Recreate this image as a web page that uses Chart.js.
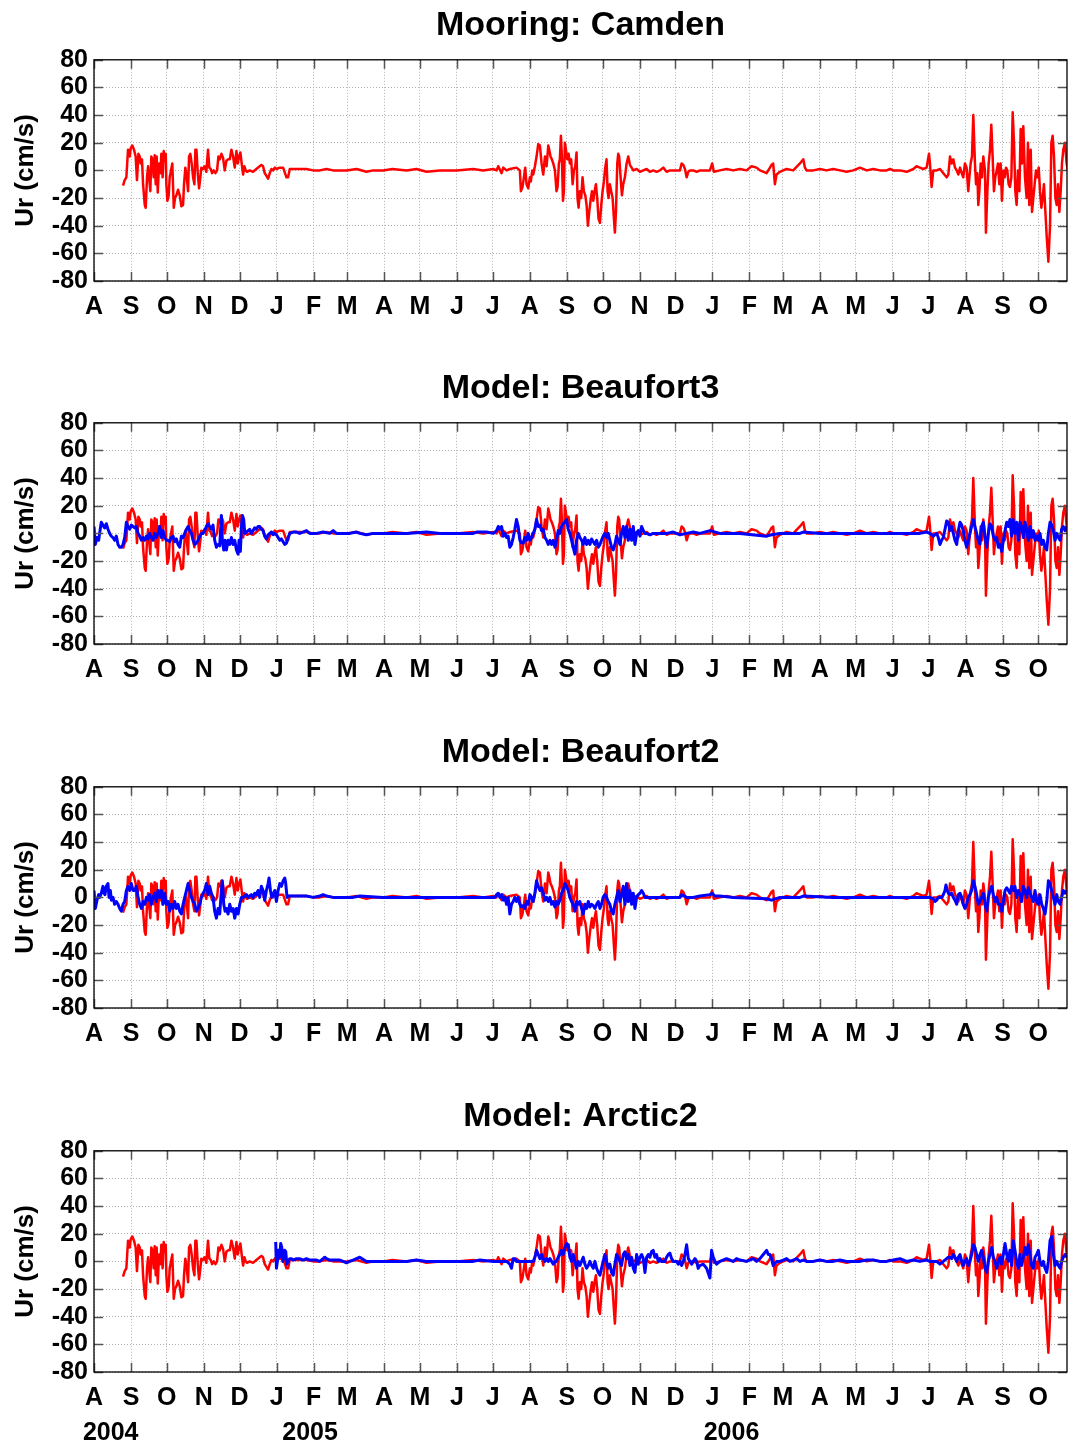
<!DOCTYPE html>
<html>
<head>
<meta charset="utf-8">
<title>Ur: mooring vs models</title>
<script src="https://cdn.jsdelivr.net/npm/chart.js@4.4.1/dist/chart.umd.min.js"></script>
<style>
  html, body { margin: 0; padding: 0; background: #fff; }
  body { width: 1068px; height: 1446px; position: relative; overflow: hidden; }
  .panel { position: absolute; left: 0; width: 1068px; }
  .panel canvas { display: block; }
</style>
</head>
<body>
<div class="panel" style="top:0px"><canvas id="panel1" width="1068" height="364"></canvas></div>
<div class="panel" style="top:363px"><canvas id="panel2" width="1068" height="364"></canvas></div>
<div class="panel" style="top:727px"><canvas id="panel3" width="1068" height="364"></canvas></div>
<div class="panel" style="top:1091px"><canvas id="panel4" width="1068" height="355"></canvas></div>
<script>
// x = days since 1 Aug 2004, y = Ur (cm/s)
const monthDays = [0, 31, 61, 92, 122, 153, 184, 212, 243, 273, 304, 334, 365, 396, 426, 457, 487,
    518, 549, 577, 608, 638, 669, 699, 730, 761, 791];
const monthLetters = ['A', 'S', 'O', 'N', 'D', 'J', 'F', 'M', 'A', 'M', 'J', 'J', 'A', 'S', 'O', 'N', 'D',
    'J', 'F', 'M', 'A', 'M', 'J', 'J', 'A', 'S', 'O'];
const yearLabels = ['2004', '2005', '2006'];
const yearLabelDays = [14, 181, 534];

// mooring (red), same in every panel
const camdenUr = [
    [24.3,-11],[25.7,-7],[27.1,-5],[28.5,15],[29.9,10],[30.7,16],[32.1,18],[33.5,15],[34.9,10],[36.0,-7],
    [37.2,12],[38.3,10],[39.1,5],[40.2,8],[41.1,-10],[42.5,-25],[43.3,-27],[44.4,-5],[45.3,3],[46.1,-5],
    [47.2,-15],[48.0,10],[48.9,8],[50.0,-5],[50.8,11],[51.7,-10],[52.5,10],[53.4,-16],[54.5,5],[55.6,-2],
    [56.4,12],[57.5,-5],[58.4,14],[59.2,7],[60.1,12],[60.6,-10],[61.5,-22],[62.6,-18],[63.4,-5],[64.5,0],
    [65.6,5],[66.8,-27],[67.9,-20],[69.0,-18],[70.4,-14],[71.8,-18],[73.2,-26],[74.6,-25],[75.4,-10],[76.5,2],
    [77.7,-5],[78.8,-15],[79.6,10],[80.7,12],[81.8,5],[83.0,-5],[84.1,-10],[84.9,15],[85.8,15],[86.9,-2],
    [88.0,-13],[89.1,-5],[89.9,2],[91.3,1],[92.7,3],[94.1,-1],[95.5,15],[96.6,2],[97.8,1],[98.9,-2],
    [100.3,0],[101.7,-2],[103.1,0],[104.2,10],[105.3,8],[106.7,12],[108.1,9],[109.5,0],[110.9,7],[112.3,8],
    [113.7,8],[115.1,15],[116.5,10],[117.9,2],[119.3,14],[120.4,5],[121.5,10],[122.6,13],[123.7,5],[124.9,-3],
    [126.0,3],[127.1,0],[128.2,-1],[130.4,0],[133.2,-1],[136.0,1],[138.8,3],[140.2,4],[141.6,3],[143.0,-2],
    [144.4,-4],[145.8,-6],[147.2,-2],[148.6,1],[150.0,0],[151.4,2],[152.8,1],[155.6,2],[158.4,2],[161.2,-5],
    [162.6,-5],[164.0,1],[166.8,1],[172.3,1],[177.9,1],[183.5,0],[189.1,0],[194.7,1],[200.3,0],[205.9,0],
    [211.5,0],[219.9,1],[228.2,-1],[233.8,0],[242.2,0],[250.0,1],[261.8,0],[270.1,1],[278.5,-1],[289.7,0],
    [303.7,0],[317.6,1],[326.0,0],[334.4,1],[337.2,0],[338.6,3],[341.4,-2],[342.8,2],[345.6,0],[348.3,1],
    [353.9,2],[356.7,0],[357.6,-15],[358.9,-12],[360.1,-5],[361.2,2],[362.3,-10],[363.7,-13],[365.1,-5],[365.9,-8],
    [367.1,0],[367.9,-3],[369.3,3],[370.7,10],[372.1,19],[373.5,18],[374.9,5],[376.3,-3],[377.7,10],[379.1,3],
    [380.5,18],[381.3,15],[382.4,10],[383.5,8],[384.7,5],[386.1,0],[387.4,-15],[388.3,-12],[389.4,5],[390.2,8],
    [391.1,25],[391.9,10],[392.8,-22],[393.6,-15],[394.4,20],[395.3,15],[396.4,8],[397.5,12],[398.6,5],[399.7,8],
    [400.9,-10],[402.0,0],[403.1,3],[404.2,13],[405.0,-20],[405.9,-27],[407.0,-15],[408.1,-20],[409.2,-5],[410.3,-15],
    [411.5,-18],[412.6,-25],[413.7,-40],[414.8,-30],[415.9,-22],[417.1,-15],[418.2,-22],[419.3,-15],[420.4,-10],[421.5,-20],
    [422.6,-35],[423.8,-38],[424.9,-25],[426.0,-15],[427.1,-8],[428.2,2],[429.3,8],[430.2,-15],[431.0,-20],[432.1,-10],
    [433.2,-15],[434.4,-20],[435.5,-35],[436.3,-45],[437.2,-30],[438.3,5],[439.1,12],[439.9,10],[441.1,-5],[442.2,-18],
    [443.3,-10],[444.7,-5],[446.1,5],[447.5,10],[448.9,4],[450.3,2],[451.7,0],[454.5,1],[457.3,-1],[460.1,0],
    [462.9,1],[465.6,-1],[468.4,0],[471.2,-1],[474.0,0],[476.8,2],[479.6,-1],[482.4,0],[485.2,0],[490.8,0],
    [492.2,5],[493.6,4],[495.0,1],[496.4,-5],[497.8,-1],[499.2,0],[501.9,0],[504.8,-1],[507.5,0],
    [515.9,0],[517.8,5],[519.2,-1],[524.3,0],[529.8,1],[535.4,0],[541.0,1],[546.6,0],[550.8,3],[555.0,2],
    [557.8,0],[563.4,-2],[566.2,2],[567.5,4],[568.9,5],[570.3,-10],[571.7,-3],[574.5,-1],[577.3,0],[580.1,1],
    [585.7,0],[591.3,5],[594.1,8],[595.5,2],[596.9,0],[602.5,0],[608.0,1],[613.6,0],[619.2,1],[624.8,0],
    [630.4,-1],[636.0,0],[641.6,2],[647.2,0],[652.7,1],[658.3,0],[663.9,0],[666.7,1],[669.5,0],[675.1,0],
    [680.7,-1],[686.3,1],[689.0,3],[691.8,2],[694.6,1],[697.4,2],[699.4,12],[700.2,5],[701.6,-12],[703.0,0],
    [705.8,0],[708.6,1],[711.4,-2],[714.2,-5],[715.6,-3],[717.0,10],[718.4,5],[719.8,8],[721.2,2],[722.6,0],
    [724.0,-3],[725.4,2],[726.8,-2],[728.1,-5],[729.5,5],[730.9,2],[732.3,-15],[733.2,-5],[734.3,5],[735.4,10],
    [736.5,40],[737.9,5],[738.8,-10],[739.9,-2],[740.7,-25],[741.6,-15],[742.7,5],[743.8,-5],[744.9,10],[746.3,0],
    [747.1,-45],[748.3,-15],[749.4,5],[750.5,15],[751.6,33],[752.7,10],[753.8,-15],[754.9,-5],[756.1,0],[757.2,5],
    [758.3,-10],[759.4,5],[760.5,-22],[761.7,0],[762.8,-5],[763.9,2],[765.0,0],[766.1,-10],[767.2,-12],[768.4,-5],
    [769.5,42],[770.6,20],[771.7,-15],[772.8,-25],[773.9,0],[775.1,-15],[776.2,30],[777.3,5],[778.4,32],[779.8,-5],
    [781.2,-20],[782.3,20],[783.4,-25],[784.6,15],[785.7,-30],[786.8,-20],[787.9,-10],[789.0,0],[790.1,-5],[791.3,2],
    [792.4,-15],[793.5,-27],[794.6,-20],[795.7,-10],[796.9,-30],[798.0,-48],[799.4,-66],[800.8,-40],[801.9,20],[803.0,25],
    [804.1,10],[805.3,-20],[806.4,-25],[807.5,-10],[808.6,-30],[809.7,-15],[810.8,5],[811.9,15],[813.3,20],[814.7,5],
    [815.8,0]
];

// models (blue)
const beaufort3Ur = [
    [0,5],[1.1,-8],[2.5,-3],[3.9,-5],[4.7,0],[6.1,8],[7.5,6],[8.9,4],[10.3,7],[11.7,3],[13.1,0],[14.5,-2],
    [15.9,-3],[17.3,-5],[18.7,-2],[20.1,-8],[21.5,-10],[22.9,-10],[24.3,-8],[25.7,-3],[27.1,8],[28.5,5],
    [29.9,3],[31.3,6],[32.7,5],[34.1,4],[35.5,5],[36.9,0],[38.3,-2],[39.7,-5],[41.1,-3],[42.5,-5],[43.9,-2],
    [45.3,-4],[46.6,0],[48.0,-3],[49.4,-5],[50.8,0],[52.2,-3],[53.6,0],[55.0,5],[56.4,-3],[57.8,2],[59.2,-3],
    [60.6,-5],[62.0,-5],[63.4,-6],[64.8,-3],[66.2,-2],[67.6,-6],[69.0,-4],[70.4,-8],[71.8,-10],[73.2,-2],
    [74.6,-3],[76.0,0],[77.4,3],[78.8,5],[80.2,2],[81.6,0],[83.0,-5],[84.4,-8],[85.8,-7],[87.2,-5],[88.5,-2],
    [89.9,0],[91.3,0],[92.7,2],[94.1,5],[95.5,7],[96.9,5],[98.3,3],[99.7,6],[101.1,-5],[102.5,-10],[103.9,-8],
    [105.3,-9],[106.7,13],[107.5,-5],[108.7,-12],[109.8,-5],[110.9,-12],[112.3,-5],[113.7,-8],[115.1,-3],
    [116.5,-8],[117.9,-5],[119.3,-12],[120.7,-15],[121.5,-5],[122.6,-13],[123.5,5],[124.3,13],[125.4,10],
    [126.3,0],[127.7,1],[129.1,2],[130.4,3],[131.8,0],[133.2,2],[134.6,4],[136.0,3],[137.4,5],[138.8,5],
    [140.2,3],[141.6,2],[143.0,-2],[144.4,-4],[145.8,-1],[147.2,0],[148.6,1],[150.0,-1],[151.4,0],[152.8,-1],
    [154.2,-3],[155.6,-5],[157.0,-4],[158.4,-6],[159.8,-8],[161.2,-7],[162.6,-3],[164.0,0],[166.8,1],[169.6,1],
    [172.3,0],[175.1,1],[177.9,2],[180.7,0],[186.3,0],[191.9,1],[197.5,0],[200.3,2],[203.1,0],[208.7,0],
    [214.2,0],[219.8,1],[222.6,0],
    [228.2,-1],[233.8,0],[247.8,0],[261.8,0],[278.5,1],[289.7,0],[303.7,0],[317.6,0],[320.4,1],[328.8,1],
    [334.4,0],[337.2,2],[338.6,5],[340.0,3],[341.4,5],[342.8,-2],[344.2,0],[345.6,-3],[346.9,-2],[348.3,-10],
    [349.7,-8],[351.1,-3],[352.5,3],[353.9,10],[355.3,5],[356.7,-5],[358.1,-7],[359.5,-7],[360.9,-3],[362.3,-5],
    [363.7,0],[365.1,-5],[366.5,-3],[367.9,0],[369.3,3],[370.7,10],[372.1,5],[373.5,6],[374.9,2],[376.3,3],
    [377.7,-3],[379.1,-5],[380.5,-8],[381.9,-5],[383.3,-8],[384.7,-5],[386.1,-10],[387.4,-5],[388.8,2],[390.2,0],
    [391.6,5],[393.0,7],[394.4,8],[395.8,10],[397.2,3],[398.6,0],[400.0,-5],[401.4,-10],[402.8,-15],[404.2,-5],
    [405.6,0],[407.0,-3],[408.4,-5],[409.8,-8],[411.2,-3],[412.6,-8],[414.0,-5],[415.4,-8],[416.8,-4],[418.2,-6],
    [419.6,-8],[421.0,-5],[422.4,-10],[423.8,-8],[425.1,-5],[426.5,-2],[427.9,0],[429.3,-3],[430.7,0],[432.1,-5],
    [433.5,-10],[434.9,-12],[436.3,-8],[437.7,-2],[439.1,-5],[440.5,-8],[441.9,0],[443.3,5],[444.7,-3],[446.1,5],
    [447.5,-5],[448.9,3],[450.3,-5],[451.7,5],[453.1,-8],[454.5,0],[455.9,2],[457.3,-2],[458.7,5],[460.1,2],
    [461.5,0],[462.9,0],[465.6,-1],[468.4,0],[474.0,0],[479.6,0],[485.2,1],[490.8,-1],[496.4,0],[501.9,1],[507.5,0],
    [515.9,2],[524.3,0],[541.0,0],[563.4,-2],[567.5,-1],[574.5,0],[591.3,0],[594.1,1],[608.0,0],[630.4,0],
    [658.3,0],[680.7,0],[691.8,0],[697.4,1],[700.2,0],[703.0,-2],[705.8,0],[707.2,-3],[708.6,-8],[710.0,-5],
    [711.4,-3],[712.8,3],[714.2,9],[715.6,8],[717.0,2],[718.4,5],[719.8,0],[721.2,-5],[722.6,-8],[724.0,2],
    [725.4,8],[726.8,6],[728.1,2],[729.5,-5],[730.9,-10],[732.3,-5],[733.7,0],[735.1,5],[736.5,10],[737.9,5],
    [739.3,0],[740.7,-5],[742.1,-8],[743.5,5],[744.9,8],[746.3,-3],[747.7,-10],[749.1,0],[750.5,7],[751.9,5],
    [753.3,-2],[754.7,-5],[756.1,-3],[757.5,-10],[758.9,-8],[760.3,-13],[761.7,-5],[763.1,2],[764.5,8],[765.9,5],
    [767.2,10],[768.6,-2],[770.0,10],[771.4,0],[772.8,8],[774.2,-5],[775.6,8],[777.0,5],[778.4,-3],[779.8,8],
    [781.2,3],[782.6,-5],[784.0,5],[785.4,-3],[786.8,2],[788.2,-5],[789.6,-2],[791.0,-5],[792.4,0],[793.8,-8],
    [795.2,-5],[796.6,-10],[798.0,-12],[799.4,0],[800.8,8],[802.2,6],[803.6,2],[805.0,-5],[806.4,0],[807.8,-3],
    [809.2,-5],[810.5,3],[811.9,5],[813.3,2],[814.7,5]
];

const beaufort2Ur = [
    [0,5],[1.1,-8],[2.5,-2],[3.9,2],[4.7,0],[6.1,3],[7.5,8],[8.4,3],[9.2,2],[10.3,8],[11.7,10],[12.6,0],
    [13.7,5],[14.5,-2],[15.9,0],[17.3,-5],[18.7,-3],[20.1,-5],[21.5,-8],[22.9,-10],[24.3,-5],[25.7,-3],[27.1,5],
    [28.5,8],[29.9,5],[31.3,10],[32.7,5],[34.1,5],[35.5,8],[36.9,0],[38.3,-5],[39.7,-8],[41.1,-3],[42.5,-5],
    [43.9,0],[45.3,-2],[46.6,2],[48.0,-5],[49.4,0],[50.8,3],[52.2,-3],[53.6,5],[55.0,0],[56.4,5],[57.8,-5],
    [59.2,3],[60.6,-5],[62.0,-3],[63.4,-10],[64.8,-5],[66.2,-8],[67.6,-3],[69.0,-8],[70.4,-5],[71.8,-10],
    [73.2,-12],[74.6,-5],[76.0,0],[77.4,5],[78.8,10],[80.2,5],[81.6,0],[83.0,-3],[84.4,-5],[85.8,-10],[87.2,-8],
    [88.5,-5],[89.9,0],[91.3,3],[92.7,5],[94.1,10],[95.5,2],[96.9,8],[98.3,3],[99.7,0],[101.1,-10],[102.5,-15],
    [103.9,-8],[105.3,-12],[106.7,5],[107.5,12],[108.7,-5],[109.8,-10],[110.9,-8],[112.3,-12],[113.7,-5],
    [115.1,-10],[116.5,-8],[117.9,-15],[119.3,-8],[120.7,-12],[122.1,-5],[123.5,0],[124.9,0],[126.3,1],
    [127.7,2],[129.1,0],[130.4,1],[131.8,2],[133.2,0],[134.6,3],[136.0,2],[137.4,5],[138.8,0],[140.2,8],
    [141.6,5],[143.0,-2],[144.4,5],[145.8,10],[146.6,14],[147.8,5],[148.9,0],[150.0,2],[151.4,5],[152.8,-3],
    [154.2,5],[155.6,10],[157.0,8],[158.4,12],[159.8,14],[160.6,10],[161.7,0],[162.8,1],[164.0,1],[166.8,1],
    [172.3,1],[177.9,1],[183.5,0],[189.1,1],[191.9,2],[194.7,1],[200.3,0],[205.9,0],[211.5,0],[217.0,0],[222.6,1],
    [242.2,0],[261.8,0],[289.7,0],[326.0,0],[334.4,0],[335.8,0],[337.2,2],[338.6,3],[340.0,0],[341.4,2],
    [342.8,-2],[344.2,0],[345.6,-5],[346.9,0],[348.3,-12],[349.7,-5],[351.1,-3],[352.5,0],[353.9,-3],[355.3,0],
    [356.7,-5],[358.1,-7],[359.5,-6],[360.9,-8],[362.3,-3],[363.7,-5],[365.1,2],[366.5,0],[367.9,-3],[369.3,3],
    [370.7,12],[372.1,8],[373.5,5],[374.9,7],[376.3,3],[377.7,-2],[379.1,0],[380.5,-3],[381.9,0],[383.3,-5],
    [384.7,-3],[386.1,-7],[387.4,-3],[388.8,-5],[390.2,-2],[391.6,3],[393.0,5],[394.4,10],[395.8,8],[397.2,5],
    [398.6,0],[400.0,-3],[401.4,-5],[402.8,-10],[404.2,-3],[405.6,-5],[407.0,-3],[408.4,-8],[409.8,-12],[411.2,-5],
    [412.6,-8],[414.0,-3],[415.4,-7],[416.8,-5],[418.2,-6],[419.6,-8],[421.0,-5],[422.4,-3],[423.8,-8],[425.1,-5],
    [426.5,0],[427.9,2],[429.3,0],[430.7,-3],[432.1,-5],[433.5,-10],[434.9,-12],[436.3,-5],[437.7,0],[439.1,5],
    [440.5,-3],[441.9,2],[443.3,8],[444.7,-5],[446.1,10],[447.5,-3],[448.9,5],[450.3,-5],[451.7,3],[453.1,-8],
    [454.5,0],[455.9,2],[457.3,3],[458.7,5],[460.1,3],[461.5,0],[462.9,0],[468.4,0],[474.0,0],[479.6,0],
    [485.2,0],[490.8,0],[492.2,2],[496.4,0],[501.9,0],[507.5,1],
    [515.9,2],[517.8,3],[520.1,1],[524.3,1],[535.4,0],[563.4,-1],[567.5,-2],[574.5,0],[591.3,0],[594.1,1],
    [619.2,0],[647.2,0],[675.1,0],[697.4,0],[700.2,0],[703.0,-1],[704.4,-3],[705.8,-2],[707.2,0],[710.0,0],
    [711.4,2],[712.8,5],[713.6,9],[714.7,5],[715.6,3],[717.0,2],[718.4,3],[719.8,0],[721.2,-2],[722.6,-5],
    [724.0,2],[725.4,3],[726.8,0],[728.1,-5],[729.5,-8],[730.9,-5],[732.3,0],[733.7,2],[735.1,5],[736.5,12],
    [737.9,8],[739.3,2],[740.7,-5],[742.1,-3],[743.5,0],[744.9,3],[746.3,-5],[747.7,-10],[749.1,0],[750.5,5],
    [751.9,8],[753.3,2],[754.7,-3],[756.1,0],[757.5,-5],[758.9,-5],[760.3,-10],[761.7,-3],[763.1,5],[764.5,7],
    [765.9,5],[767.2,3],[768.6,8],[770.0,5],[771.4,8],[772.8,0],[774.2,5],[775.6,2],[777.0,-3],[778.4,8],
    [779.8,5],[781.2,0],[782.6,7],[784.0,3],[785.4,0],[786.8,-3],[788.2,5],[789.6,-3],[791.0,-5],[792.4,2],
    [793.8,-5],[795.2,-8],[796.6,-12],[798.0,-3],[799.4,12],[800.8,10],[802.2,5],[803.6,0],[805.0,-5],[806.4,2],
    [807.8,-3],[809.2,-5],[810.5,0],[811.9,5],[813.3,3],[814.7,5]
];

const arctic2Ur = [
    [152.2,14],[152.8,-5],[153.6,0],[154.5,8],[155.6,3],[156.4,13],[157.3,10],[158.1,0],[159.0,3],[159.8,8],
    [160.6,7],[161.5,-2],[162.6,0],[164.0,2],[165.4,2],[166.8,1],[169.6,2],[172.3,2],[175.1,1],[177.9,2],
    [180.7,1],[183.5,1],[186.3,1],[189.1,0],[191.9,2],[193.3,3],[194.7,2],[197.5,1],[200.3,1],[203.1,1],
    [205.9,1],[208.7,0],[211.5,-1],[214.2,0],[217.0,1],[219.8,2],[222.6,3],
    [228.2,0],[233.8,0],[247.8,0],[261.8,0],[270.1,1],[278.5,0],[289.7,0],[303.7,0],[317.6,0],[323.2,1],
    [334.4,0],[340.0,0],[345.6,0],[348.3,-2],[349.7,-5],[351.1,2],[352.5,2],[353.9,0],[359.5,0],[365.1,0],
    [367.9,0],[369.3,3],[370.7,8],[372.1,5],[373.5,2],[374.9,5],[376.3,2],[377.7,0],[379.1,2],[380.5,0],
    [381.9,2],[383.3,0],[384.7,-2],[386.1,0],[387.4,0],[388.8,3],[390.2,5],[391.6,8],[393.0,5],[394.4,10],
    [395.8,13],[397.2,12],[398.6,3],[400.0,0],[401.4,5],[402.8,0],[404.2,-5],[405.6,0],[407.0,-3],[408.4,0],
    [409.8,3],[411.2,-2],[412.6,-5],[414.0,-3],[415.4,0],[416.8,-3],[418.2,-5],[419.6,0],[421.0,-5],[422.4,-8],
    [423.8,-10],[425.1,-5],[426.5,0],[427.9,5],[429.3,0],[430.7,-5],[432.1,-2],[433.5,-8],[434.9,-10],[436.3,-2],
    [437.7,5],[439.1,3],[440.5,0],[441.9,-3],[443.3,5],[444.7,7],[446.1,2],[447.5,5],[448.9,-3],[450.3,3],
    [451.7,-5],[453.1,-8],[454.5,5],[455.9,-2],[457.3,3],[458.7,5],[460.1,2],[461.5,-8],[462.9,3],[464.3,5],
    [465.6,3],[467.0,7],[468.4,8],[469.8,3],[471.2,5],[472.6,0],[474.0,2],[475.4,0],[476.8,0],[478.2,0],
    [479.6,3],[481.0,5],[482.4,6],[483.8,2],[485.2,0],[486.6,0],[488.0,0],[489.4,-2],[490.8,0],[492.2,-3],
    [493.6,0],[495.0,5],[496.4,12],[497.8,2],[499.2,0],[500.6,-2],[501.9,0],[503.4,2],[504.8,0],[506.1,-5],[507.5,-3],
    [510.3,-2],[513.1,-5],[515.9,-12],[517.3,8],[518.7,3],[520.1,0],[521.5,-2],[524.3,0],[529.8,2],[535.4,0],
    [538.2,2],[541.0,1],[546.6,0],[552.2,2],[555.0,0],[557.8,2],[560.6,5],[563.4,8],[564.8,5],[566.2,5],
    [567.5,2],[568.9,-3],[571.7,0],[574.5,0],[577.3,1],[580.1,2],[582.9,0],[585.7,1],[588.5,2],[591.3,0],
    [594.1,1],[596.9,0],[602.5,0],[608.0,1],[613.6,0],[619.2,0],[624.8,1],[630.4,0],[636.0,0],[641.6,0],
    [647.2,1],[652.7,1],[658.3,0],[663.9,0],[669.5,1],[675.1,2],[680.7,0],[686.3,1],[691.8,0],[697.4,1],
    [700.2,0],[703.0,0],[705.8,0],[708.6,-2],[711.4,0],[714.2,2],[715.6,3],[717.0,3],[718.4,2],[719.8,5],
    [721.2,3],[722.6,0],[724.0,3],[725.4,5],[726.8,0],[728.1,-3],[729.5,0],[730.9,2],[732.3,-3],[733.7,0],
    [735.1,5],[736.5,12],[737.9,10],[739.3,5],[740.7,0],[742.1,5],[743.5,8],[744.9,3],[746.3,-5],[747.7,-8],
    [749.1,0],[750.5,5],[751.9,10],[753.3,3],[754.7,0],[756.1,-5],[757.5,0],[758.9,3],[760.3,-2],[761.7,5],
    [763.1,13],[764.5,5],[765.9,0],[767.2,8],[768.6,-3],[770.0,15],[771.4,8],[772.8,0],[774.2,-5],[775.6,5],
    [777.0,-3],[778.4,3],[779.8,10],[781.2,5],[782.6,12],[784.0,5],[785.4,-3],[786.8,-5],[788.2,3],[789.6,5],
    [791.0,8],[792.4,0],[793.8,-3],[795.2,0],[796.6,-5],[798.0,-8],[799.4,0],[800.8,15],[802.2,18],[803.6,5],
    [805.0,-3],[806.4,0],[807.8,-3],[809.2,-5],[810.5,0],[811.9,3],[813.3,5],[814.7,3]
];

document.addEventListener('DOMContentLoaded', function() {
    const family = '"Liberation Sans", Arial, Helvetica, sans-serif';
    const tickFont = { family: family, size: 25, weight: 'bold' };

    // black box + inward tick marks
    const framePlugin = {
        id: 'frame',
        afterDatasetsDraw(chart) {
            const { ctx, chartArea: a, scales: { x, y } } = chart;
            ctx.save();
            ctx.strokeStyle = '#555';
            ctx.lineWidth = 1.5;
            ctx.beginPath();
            x.ticks.forEach(t => {
                const px = Math.round(x.getPixelForValue(t.value)) + 0.5;
                ctx.moveTo(px, a.bottom); ctx.lineTo(px, a.bottom - 9);
                ctx.moveTo(px, a.top); ctx.lineTo(px, a.top + 9);
            });
            y.ticks.forEach(t => {
                const py = Math.round(y.getPixelForValue(t.value)) + 0.5;
                ctx.moveTo(a.left, py); ctx.lineTo(a.left + 9, py);
                ctx.moveTo(a.right, py); ctx.lineTo(a.right - 9, py);
            });
            ctx.stroke();
            ctx.strokeStyle = '#000';
            ctx.lineWidth = 1.3;
            ctx.strokeRect(a.left, a.top, a.right - a.left, a.bottom - a.top);
            ctx.restore();
        }
    };

    const yearPlugin = {
        id: 'years',
        afterDraw(chart) {
            const { ctx, scales: { x } } = chart;
            ctx.save();
            ctx.font = 'bold 25px ' + family;
            ctx.fillStyle = '#000';
            ctx.textAlign = 'center';
            ctx.textBaseline = 'middle';
            yearLabels.forEach((label, i) => {
                ctx.fillText(label, x.getPixelForValue(yearLabelDays[i]), 342);
            });
            ctx.restore();
        }
    };

    function makePanel(id, title, modelUr, withYears) {
        const canvas = document.getElementById(id);
        const datasets = [];
        if (modelUr) {
            datasets.push({ data: modelUr, borderColor: '#0000ff', borderWidth: 3 });
        }
        datasets.push({ data: camdenUr, borderColor: '#ff0000', borderWidth: 2.5 });
        datasets.forEach(d => {
            d.pointRadius = 0;
            d.tension = 0;
            d.fill = false;
            d.borderJoinStyle = 'round';
        });

        return new Chart(canvas, {
            type: 'line',
            data: { datasets: datasets },
            plugins: withYears ? [framePlugin, yearPlugin] : [framePlugin],
            options: {
                responsive: false,
                animation: false,
                events: [],
                layout: { padding: { left: 0, right: 1, top: 0, bottom: 0 } },
                plugins: {
                    legend: { display: false },
                    tooltip: { enabled: false },
                    title: {
                        display: true,
                        text: title,
                        color: '#000',
                        fullSize: false,
                        font: { family: family, size: 34, weight: 'bold' },
                        padding: { top: 5, bottom: 14 }
                    }
                },
                scales: {
                    x: {
                        type: 'linear',
                        min: 0,
                        max: 815,
                        afterBuildTicks: s => { s.ticks = monthDays.map(v => ({ value: v })); },
                        afterFit: s => { s.height = canvas.height - 281; },
                        ticks: {
                            autoSkip: false,
                            maxRotation: 0,
                            padding: 11,
                            color: '#000',
                            font: tickFont,
                            callback: (v, i) => monthLetters[i]
                        },
                        grid: { color: '#b0b0b0', lineWidth: 1, drawTicks: false },
                        border: { display: false, dash: [1, 2] }
                    },
                    y: {
                        min: -80,
                        max: 80,
                        afterFit: s => { s.width = 94; },
                        ticks: { stepSize: 20, autoSkip: false, padding: 6, color: '#000', font: tickFont },
                        grid: { color: '#b0b0b0', lineWidth: 1, drawTicks: false },
                        border: { display: false, dash: [1, 2] },
                        title: {
                            display: true,
                            text: 'Ur (cm/s)',
                            color: '#000',
                            font: { family: family, size: 26, weight: 'bold' },
                            padding: { top: 10, bottom: 0 }
                        }
                    }
                }
            }
        });
    }

    makePanel('panel1', 'Mooring: Camden', null, false);
    makePanel('panel2', 'Model: Beaufort3', beaufort3Ur, false);
    makePanel('panel3', 'Model: Beaufort2', beaufort2Ur, false);
    makePanel('panel4', 'Model: Arctic2', arctic2Ur, true);
});
</script>
</body>
</html>
